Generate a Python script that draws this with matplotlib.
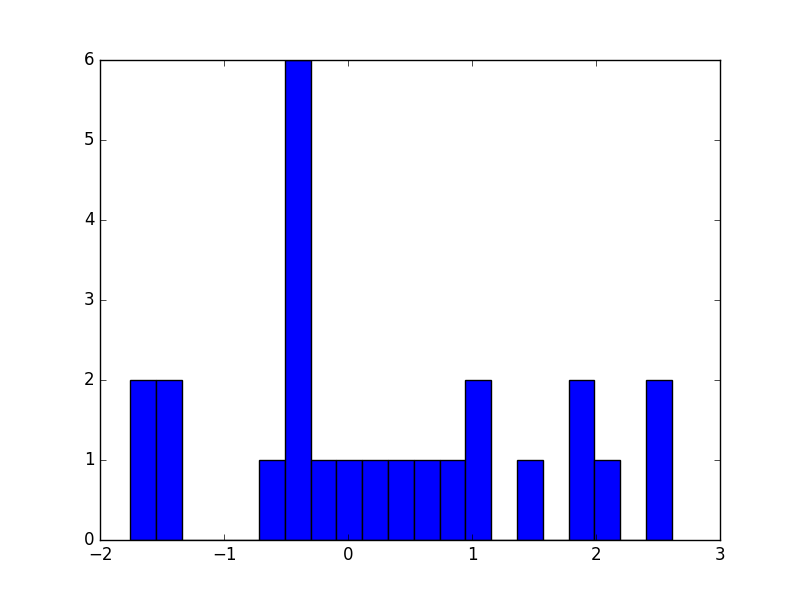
import matplotlib
matplotlib.use("Agg")
import matplotlib.pyplot as plt
import numpy as np

plt.style.use("classic")

# Histogram data
bin_start = -1.758
bin_end = 2.611
counts = [2, 2, 0, 0, 0, 1, 6, 1, 1, 1, 1, 1, 1, 2, 0, 1, 0, 2, 1, 0, 2]

edges = np.linspace(bin_start, bin_end, len(counts) + 1)
centers = (edges[:-1] + edges[1:]) / 2

fig = plt.figure(figsize=(8, 6), dpi=100)
ax = fig.add_subplot(111)
ax.hist(centers, bins=edges, weights=counts, color="blue", edgecolor="black")
ax.set_xlim(-2, 3)
ax.set_ylim(0, 6)
fig.savefig("out.png", dpi=100)
